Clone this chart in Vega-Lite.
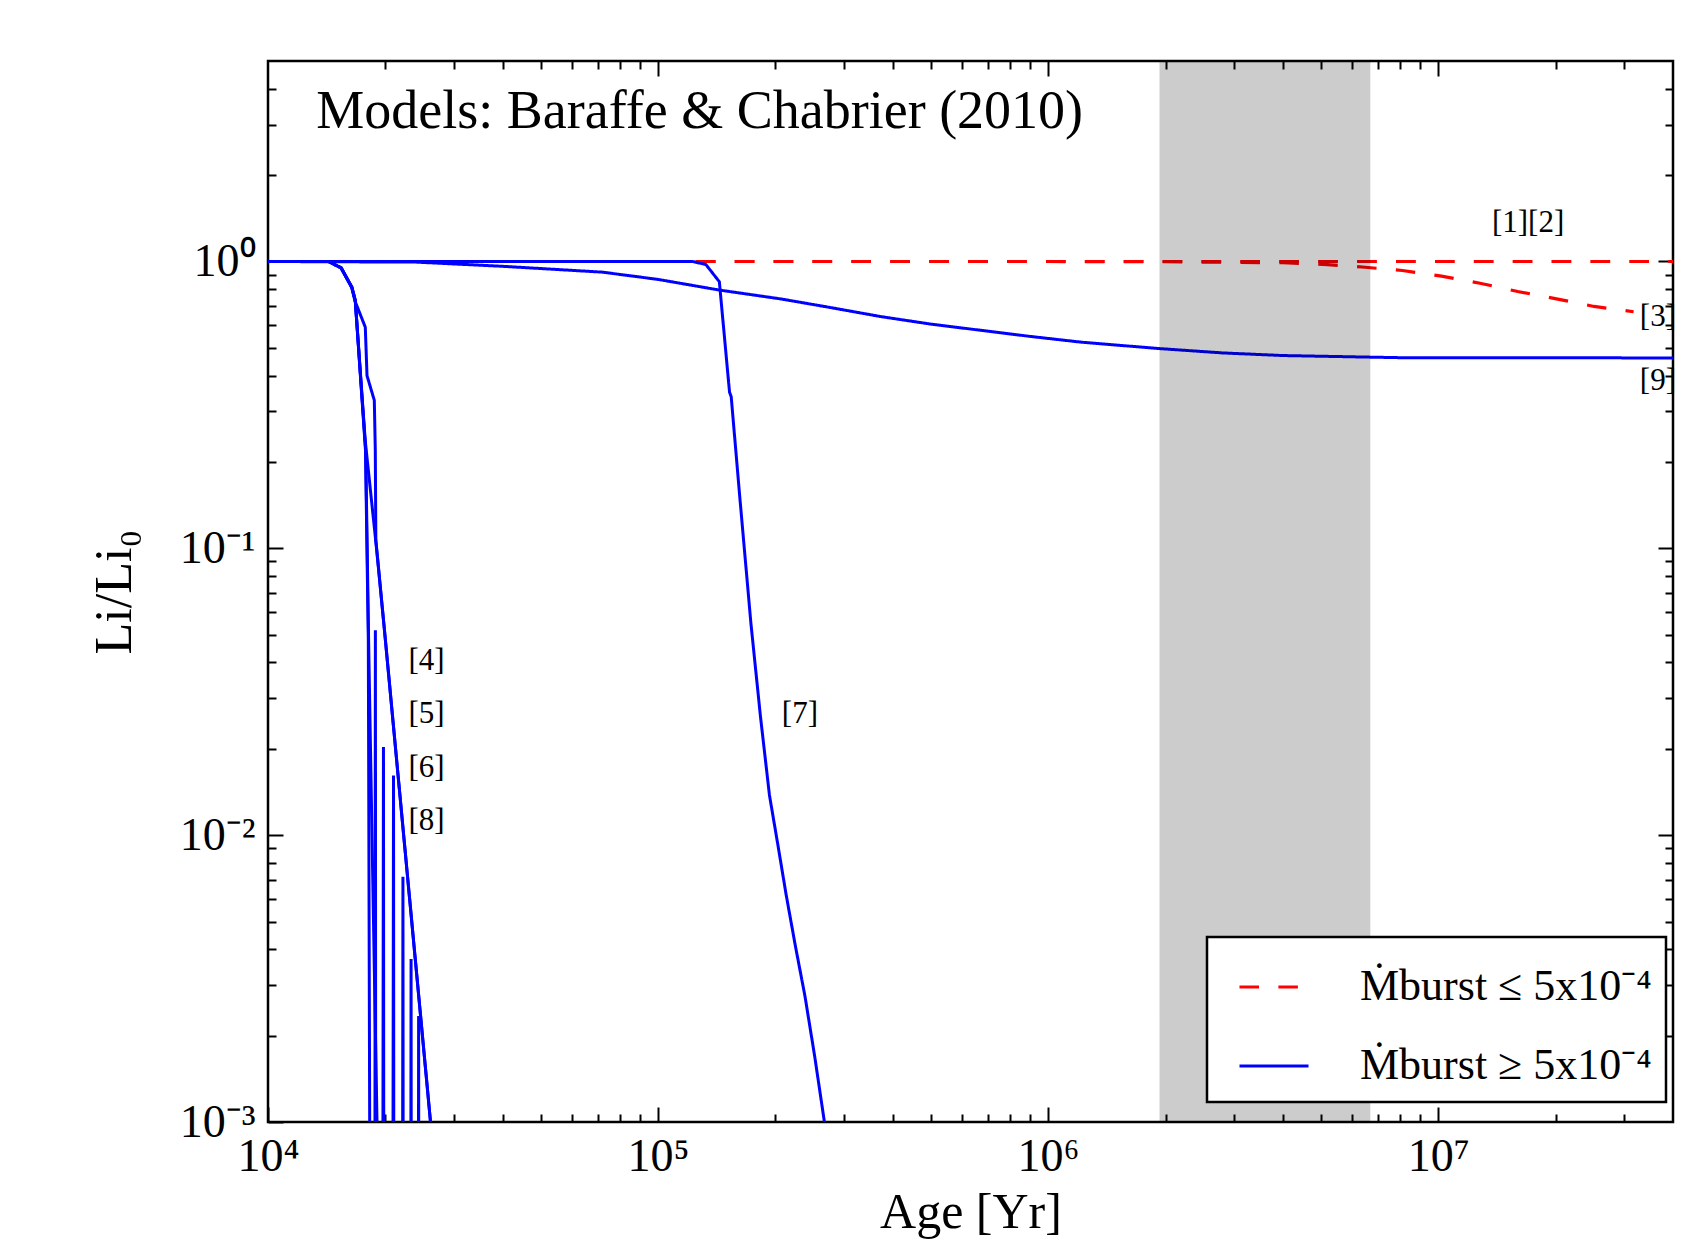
{
  "$schema": "https://vega.github.io/schema/vega-lite/v6.json",
  "width": 1405,
  "height": 1061,
  "autosize": {"type": "none"},
  "padding": {"left": 268, "top": 61, "right": 26, "bottom": 121},
  "background": "white",
  "config": {
    "view": {"stroke": "black", "strokeWidth": 2.5, "fill": "white"},
    "axis": {
      "domain": false, "grid": false, "tickColor": "black", "tickWidth": 2,
      "labelFont": "Liberation Serif", "labelFontSize": 46, "labelColor": "black",
      "titleFont": "Liberation Serif", "titleFontSize": 50, "titleFontWeight": "normal", "titleColor": "black",
      "labelFlush": false, "labelOverlap": false, "zindex": 1
    },
    "legend": {
      "orient": "none", "legendX": 939, "legendY": 876, "title": null,
      "strokeColor": "black", "strokeWidth": 2.5, "fillColor": "white", "padding": 14,
      "symbolType": "stroke", "symbolSize": 4761, "symbolStrokeWidth": 3, "symbolOffset": 17,
      "labelFont": "Liberation Serif", "labelFontSize": 44, "labelColor": "black",
      "labelOffset": 50, "rowPadding": 21, "labelLimit": 0, "cornerRadius": 0
    }
  },
  "datasets": {
    "red": [
      {"s": "[1]", "g": "Ṁburst ≤ 5x10⁻⁴", "x": 10000, "y": 1},
      {"s": "[1]", "g": "Ṁburst ≤ 5x10⁻⁴", "x": 50000000, "y": 1},
      {"s": "[2]", "g": "Ṁburst ≤ 5x10⁻⁴", "x": 10000, "y": 1},
      {"s": "[2]", "g": "Ṁburst ≤ 5x10⁻⁴", "x": 50000000, "y": 1},
      {"s": "[3]", "g": "Ṁburst ≤ 5x10⁻⁴", "x": 10000, "y": 1},
      {"s": "[3]", "g": "Ṁburst ≤ 5x10⁻⁴", "x": 1000000, "y": 1},
      {"s": "[3]", "g": "Ṁburst ≤ 5x10⁻⁴", "x": 2000000, "y": 0.998},
      {"s": "[3]", "g": "Ṁburst ≤ 5x10⁻⁴", "x": 4000000, "y": 0.99},
      {"s": "[3]", "g": "Ṁburst ≤ 5x10⁻⁴", "x": 5200000, "y": 0.975},
      {"s": "[3]", "g": "Ṁburst ≤ 5x10⁻⁴", "x": 6500000, "y": 0.955},
      {"s": "[3]", "g": "Ṁburst ≤ 5x10⁻⁴", "x": 8100000, "y": 0.93},
      {"s": "[3]", "g": "Ṁburst ≤ 5x10⁻⁴", "x": 10200000, "y": 0.889},
      {"s": "[3]", "g": "Ṁburst ≤ 5x10⁻⁴", "x": 12800000, "y": 0.84},
      {"s": "[3]", "g": "Ṁburst ≤ 5x10⁻⁴", "x": 16000000, "y": 0.786},
      {"s": "[3]", "g": "Ṁburst ≤ 5x10⁻⁴", "x": 20100000, "y": 0.741},
      {"s": "[3]", "g": "Ṁburst ≤ 5x10⁻⁴", "x": 25100000, "y": 0.697},
      {"s": "[3]", "g": "Ṁburst ≤ 5x10⁻⁴", "x": 31700000, "y": 0.668}
    ],
    "blue": [
      {"s": "[9]", "g": "Ṁburst ≥ 5x10⁻⁴", "x": 10000, "y": 1},
      {"s": "[9]", "g": "Ṁburst ≥ 5x10⁻⁴", "x": 24000, "y": 0.995},
      {"s": "[9]", "g": "Ṁburst ≥ 5x10⁻⁴", "x": 40000, "y": 0.962},
      {"s": "[9]", "g": "Ṁburst ≥ 5x10⁻⁴", "x": 72000, "y": 0.918},
      {"s": "[9]", "g": "Ṁburst ≥ 5x10⁻⁴", "x": 100000, "y": 0.866},
      {"s": "[9]", "g": "Ṁburst ≥ 5x10⁻⁴", "x": 143600, "y": 0.795},
      {"s": "[9]", "g": "Ṁburst ≥ 5x10⁻⁴", "x": 207000, "y": 0.74},
      {"s": "[9]", "g": "Ṁburst ≥ 5x10⁻⁴", "x": 270000, "y": 0.695},
      {"s": "[9]", "g": "Ṁburst ≥ 5x10⁻⁴", "x": 374000, "y": 0.642},
      {"s": "[9]", "g": "Ṁburst ≥ 5x10⁻⁴", "x": 500000, "y": 0.605},
      {"s": "[9]", "g": "Ṁburst ≥ 5x10⁻⁴", "x": 676000, "y": 0.575},
      {"s": "[9]", "g": "Ṁburst ≥ 5x10⁻⁴", "x": 900000, "y": 0.548},
      {"s": "[9]", "g": "Ṁburst ≥ 5x10⁻⁴", "x": 1220000, "y": 0.523},
      {"s": "[9]", "g": "Ṁburst ≥ 5x10⁻⁴", "x": 1930000, "y": 0.497},
      {"s": "[9]", "g": "Ṁburst ≥ 5x10⁻⁴", "x": 2800000, "y": 0.48},
      {"s": "[9]", "g": "Ṁburst ≥ 5x10⁻⁴", "x": 4000000, "y": 0.47},
      {"s": "[9]", "g": "Ṁburst ≥ 5x10⁻⁴", "x": 8000000, "y": 0.462},
      {"s": "[9]", "g": "Ṁburst ≥ 5x10⁻⁴", "x": 50000000, "y": 0.461},
      {"s": "[7]", "g": "Ṁburst ≥ 5x10⁻⁴", "x": 10000, "y": 1},
      {"s": "[7]", "g": "Ṁburst ≥ 5x10⁻⁴", "x": 122500, "y": 1},
      {"s": "[7]", "g": "Ṁburst ≥ 5x10⁻⁴", "x": 132600, "y": 0.976},
      {"s": "[7]", "g": "Ṁburst ≥ 5x10⁻⁴", "x": 143600, "y": 0.85},
      {"s": "[7]", "g": "Ṁburst ≥ 5x10⁻⁴", "x": 152500, "y": 0.35},
      {"s": "[7]", "g": "Ṁburst ≥ 5x10⁻⁴", "x": 154000, "y": 0.338},
      {"s": "[7]", "g": "Ṁburst ≥ 5x10⁻⁴", "x": 162000, "y": 0.151},
      {"s": "[7]", "g": "Ṁburst ≥ 5x10⁻⁴", "x": 173000, "y": 0.0548},
      {"s": "[7]", "g": "Ṁburst ≥ 5x10⁻⁴", "x": 183000, "y": 0.026},
      {"s": "[7]", "g": "Ṁburst ≥ 5x10⁻⁴", "x": 193000, "y": 0.0138},
      {"s": "[7]", "g": "Ṁburst ≥ 5x10⁻⁴", "x": 203000, "y": 0.0092},
      {"s": "[7]", "g": "Ṁburst ≥ 5x10⁻⁴", "x": 213000, "y": 0.0062},
      {"s": "[7]", "g": "Ṁburst ≥ 5x10⁻⁴", "x": 225000, "y": 0.0041},
      {"s": "[7]", "g": "Ṁburst ≥ 5x10⁻⁴", "x": 238000, "y": 0.00275},
      {"s": "[7]", "g": "Ṁburst ≥ 5x10⁻⁴", "x": 252000, "y": 0.0017},
      {"s": "[7]", "g": "Ṁburst ≥ 5x10⁻⁴", "x": 267000, "y": 0.001},
      {"s": "[7]", "g": "Ṁburst ≥ 5x10⁻⁴", "x": 280000, "y": 0.0006},
      {"s": "[4]", "g": "Ṁburst ≥ 5x10⁻⁴", "x": 10000, "y": 1},
      {"s": "[4]", "g": "Ṁburst ≥ 5x10⁻⁴", "x": 14300, "y": 1},
      {"s": "[4]", "g": "Ṁburst ≥ 5x10⁻⁴", "x": 15400, "y": 0.95},
      {"s": "[4]", "g": "Ṁburst ≥ 5x10⁻⁴", "x": 16400, "y": 0.814},
      {"s": "[4]", "g": "Ṁburst ≥ 5x10⁻⁴", "x": 16740, "y": 0.731},
      {"s": "[4]", "g": "Ṁburst ≥ 5x10⁻⁴", "x": 17750, "y": 0.238},
      {"s": "[4]", "g": "Ṁburst ≥ 5x10⁻⁴", "x": 19000, "y": 0.0984},
      {"s": "[4]", "g": "Ṁburst ≥ 5x10⁻⁴", "x": 20000, "y": 0.0478},
      {"s": "[4]", "g": "Ṁburst ≥ 5x10⁻⁴", "x": 26100, "y": 0.001},
      {"s": "[4]", "g": "Ṁburst ≥ 5x10⁻⁴", "x": 27000, "y": 0.0006},
      {"s": "[5]", "g": "Ṁburst ≥ 5x10⁻⁴", "x": 10000, "y": 1},
      {"s": "[5]", "g": "Ṁburst ≥ 5x10⁻⁴", "x": 14300, "y": 1},
      {"s": "[5]", "g": "Ṁburst ≥ 5x10⁻⁴", "x": 15400, "y": 0.95},
      {"s": "[5]", "g": "Ṁburst ≥ 5x10⁻⁴", "x": 16400, "y": 0.814},
      {"s": "[5]", "g": "Ṁburst ≥ 5x10⁻⁴", "x": 16740, "y": 0.731},
      {"s": "[5]", "g": "Ṁburst ≥ 5x10⁻⁴", "x": 17800, "y": 0.22},
      {"s": "[5]", "g": "Ṁburst ≥ 5x10⁻⁴", "x": 18110, "y": 0.0478},
      {"s": "[5]", "g": "Ṁburst ≥ 5x10⁻⁴", "x": 19030, "y": 0.001},
      {"s": "[5]", "g": "Ṁburst ≥ 5x10⁻⁴", "x": 19300, "y": 0.0006},
      {"s": "[6]", "g": "Ṁburst ≥ 5x10⁻⁴", "x": 10000, "y": 1},
      {"s": "[6]", "g": "Ṁburst ≥ 5x10⁻⁴", "x": 14300, "y": 1},
      {"s": "[6]", "g": "Ṁburst ≥ 5x10⁻⁴", "x": 15400, "y": 0.95},
      {"s": "[6]", "g": "Ṁburst ≥ 5x10⁻⁴", "x": 16400, "y": 0.81},
      {"s": "[6]", "g": "Ṁburst ≥ 5x10⁻⁴", "x": 16700, "y": 0.73},
      {"s": "[6]", "g": "Ṁburst ≥ 5x10⁻⁴", "x": 17760, "y": 0.59},
      {"s": "[6]", "g": "Ṁburst ≥ 5x10⁻⁴", "x": 17940, "y": 0.4},
      {"s": "[6]", "g": "Ṁburst ≥ 5x10⁻⁴", "x": 18730, "y": 0.328},
      {"s": "[6]", "g": "Ṁburst ≥ 5x10⁻⁴", "x": 18840, "y": 0.22},
      {"s": "[6]", "g": "Ṁburst ≥ 5x10⁻⁴", "x": 18900, "y": 0.107},
      {"s": "[6]", "g": "Ṁburst ≥ 5x10⁻⁴", "x": 20000, "y": 0.0478},
      {"s": "[6]", "g": "Ṁburst ≥ 5x10⁻⁴", "x": 26100, "y": 0.001},
      {"s": "[6]", "g": "Ṁburst ≥ 5x10⁻⁴", "x": 27000, "y": 0.0006},
      {"s": "[8]", "g": "Ṁburst ≥ 5x10⁻⁴", "x": 10000, "y": 1},
      {"s": "[8]", "g": "Ṁburst ≥ 5x10⁻⁴", "x": 14300, "y": 1},
      {"s": "[8]", "g": "Ṁburst ≥ 5x10⁻⁴", "x": 15400, "y": 0.95},
      {"s": "[8]", "g": "Ṁburst ≥ 5x10⁻⁴", "x": 16400, "y": 0.814},
      {"s": "[8]", "g": "Ṁburst ≥ 5x10⁻⁴", "x": 16740, "y": 0.731},
      {"s": "[8]", "g": "Ṁburst ≥ 5x10⁻⁴", "x": 17780, "y": 0.22},
      {"s": "[8]", "g": "Ṁburst ≥ 5x10⁻⁴", "x": 18080, "y": 0.0478},
      {"s": "[8]", "g": "Ṁburst ≥ 5x10⁻⁴", "x": 18400, "y": 0.00001},
      {"s": "[8]", "g": "Ṁburst ≥ 5x10⁻⁴", "x": 18750, "y": 0.00001},
      {"s": "[8]", "g": "Ṁburst ≥ 5x10⁻⁴", "x": 18850, "y": 0.0518},
      {"s": "[8]", "g": "Ṁburst ≥ 5x10⁻⁴", "x": 18880, "y": 0.0013},
      {"s": "[8]", "g": "Ṁburst ≥ 5x10⁻⁴", "x": 18950, "y": 0.00001},
      {"s": "[8]", "g": "Ṁburst ≥ 5x10⁻⁴", "x": 19620, "y": 0.00001},
      {"s": "[8]", "g": "Ṁburst ≥ 5x10⁻⁴", "x": 19770, "y": 0.0203},
      {"s": "[8]", "g": "Ṁburst ≥ 5x10⁻⁴", "x": 19850, "y": 0.00001},
      {"s": "[8]", "g": "Ṁburst ≥ 5x10⁻⁴", "x": 20820, "y": 0.00001},
      {"s": "[8]", "g": "Ṁburst ≥ 5x10⁻⁴", "x": 20980, "y": 0.01614},
      {"s": "[8]", "g": "Ṁburst ≥ 5x10⁻⁴", "x": 21060, "y": 0.00001},
      {"s": "[8]", "g": "Ṁburst ≥ 5x10⁻⁴", "x": 22060, "y": 0.00001},
      {"s": "[8]", "g": "Ṁburst ≥ 5x10⁻⁴", "x": 22180, "y": 0.00716},
      {"s": "[8]", "g": "Ṁburst ≥ 5x10⁻⁴", "x": 22260, "y": 0.00001},
      {"s": "[8]", "g": "Ṁburst ≥ 5x10⁻⁴", "x": 23170, "y": 0.00001},
      {"s": "[8]", "g": "Ṁburst ≥ 5x10⁻⁴", "x": 23270, "y": 0.0037},
      {"s": "[8]", "g": "Ṁburst ≥ 5x10⁻⁴", "x": 23350, "y": 0.00001},
      {"s": "[8]", "g": "Ṁburst ≥ 5x10⁻⁴", "x": 24240, "y": 0.00001},
      {"s": "[8]", "g": "Ṁburst ≥ 5x10⁻⁴", "x": 24330, "y": 0.00234},
      {"s": "[8]", "g": "Ṁburst ≥ 5x10⁻⁴", "x": 24410, "y": 0.00001}
    ],
    "band": [{"start": 1930000, "end": 6700000}],
    "ann": [
      {"label": "[1][2]", "x": 17000000, "y": 1.36},
      {"label": "[3]", "x": 36600000, "y": 0.643},
      {"label": "[9]", "x": 36600000, "y": 0.382},
      {"label": "[4]", "x": 25500, "y": 0.0404},
      {"label": "[5]", "x": 25500, "y": 0.0264},
      {"label": "[6]", "x": 25500, "y": 0.0171},
      {"label": "[8]", "x": 25500, "y": 0.0112},
      {"label": "[7]", "x": 231000, "y": 0.0264}
    ],
    "head": [{"label": "Models: Baraffe & Chabrier (2010)", "x": 13300, "y": 3.32}]
  },
  "layer": [
    {
      "data": {"name": "red"},
      "mark": {"type": "line", "strokeWidth": 3.2, "clip": true},
      "encoding": {
        "x": {"field": "x", "type": "quantitative",
          "scale": {"type": "log", "domain": [10000, 40000000], "nice": false},
          "axis": {"orient": "bottom", "values": [10000, 100000, 1000000, 10000000], "tickSize": -15, "labelPadding": 27,
            "labelExpr": "datum.value < 50000 ? '10⁴' : datum.value < 500000 ? '10⁵' : datum.value < 5000000 ? '10⁶' : '10⁷'",
            "title": "Age [Yr]", "titlePadding": 8}},
        "y": {"field": "y", "type": "quantitative",
          "scale": {"type": "log", "domain": [0.001, 5], "nice": false},
          "axis": {"orient": "left", "values": [0.001, 0.01, 0.1, 1], "tickSize": -15, "labelPadding": 28,
            "labelExpr": "datum.value > 0.5 ? '10⁰' : datum.value > 0.05 ? '10⁻¹' : datum.value > 0.005 ? '10⁻²' : '10⁻³'",
            "title": "Li/Li₀", "titlePadding": 38, "titleFontSize": 52}},
        "detail": {"field": "s"},
        "color": {"field": "g", "type": "nominal",
          "scale": {"domain": ["Ṁburst ≤ 5x10⁻⁴", "Ṁburst ≥ 5x10⁻⁴"], "range": ["#ff0000", "#0000ff"]}},
        "strokeDash": {"field": "g", "type": "nominal",
          "scale": {"domain": ["Ṁburst ≤ 5x10⁻⁴", "Ṁburst ≥ 5x10⁻⁴"], "range": [[19.5, 19.4], [1, 0]]}}
      }
    },
    {
      "data": {"name": "blue"},
      "mark": {"type": "line", "strokeWidth": 3, "clip": true},
      "encoding": {
        "x": {"field": "x", "type": "quantitative",
          "scale": {"type": "log", "domain": [10000, 40000000], "nice": false},
          "axis": {"orient": "bottom", "values": [20000, 30000, 40000, 50000, 60000, 70000, 80000, 90000, 200000, 300000, 400000, 500000, 600000, 700000, 800000, 900000, 2000000, 3000000, 4000000, 5000000, 6000000, 7000000, 8000000, 9000000, 20000000, 30000000], "tickSize": -8, "labels": false, "title": null}},
        "y": {"field": "y", "type": "quantitative",
          "scale": {"type": "log", "domain": [0.001, 5], "nice": false},
          "axis": {"orient": "left", "values": [0.002, 0.003, 0.004, 0.005, 0.006, 0.007, 0.008, 0.009, 0.02, 0.03, 0.04, 0.05, 0.06, 0.07, 0.08, 0.09, 0.2, 0.3, 0.4, 0.5, 0.6, 0.7, 0.8, 0.9, 2, 3, 4], "tickSize": -8, "labels": false, "title": null}},
        "detail": {"field": "s"},
        "color": {"field": "g", "type": "nominal",
          "scale": {"domain": ["Ṁburst ≤ 5x10⁻⁴", "Ṁburst ≥ 5x10⁻⁴"], "range": ["#ff0000", "#0000ff"]}},
        "strokeDash": {"field": "g", "type": "nominal",
          "scale": {"domain": ["Ṁburst ≤ 5x10⁻⁴", "Ṁburst ≥ 5x10⁻⁴"], "range": [[19.5, 19.4], [1, 0]]}}
      }
    },
    {
      "data": {"name": "band"},
      "mark": {"type": "rect", "color": "black", "opacity": 0.2},
      "encoding": {
        "x": {"field": "start", "type": "quantitative", "scale": {"type": "log", "domain": [10000, 40000000], "nice": false}, "axis": null},
        "x2": {"field": "end"}
      }
    },
    {
      "data": {"name": "ann"},
      "mark": {"type": "text", "font": "Liberation Serif", "fontSize": 31, "align": "center", "baseline": "middle", "color": "black"},
      "encoding": {
        "x": {"field": "x", "type": "quantitative",
          "scale": {"type": "log", "domain": [10000, 40000000], "nice": false},
          "axis": {"orient": "top", "values": [100000, 1000000, 10000000], "tickSize": -15, "labels": false, "title": null}},
        "y": {"field": "y", "type": "quantitative",
          "scale": {"type": "log", "domain": [0.001, 5], "nice": false},
          "axis": {"orient": "right", "values": [0.01, 0.1, 1], "tickSize": -15, "labels": false, "title": null}},
        "text": {"field": "label"}
      }
    },
    {
      "data": {"name": "head"},
      "mark": {"type": "text", "font": "Liberation Serif", "fontSize": 54, "align": "left", "baseline": "middle", "color": "black"},
      "encoding": {
        "x": {"field": "x", "type": "quantitative",
          "scale": {"type": "log", "domain": [10000, 40000000], "nice": false},
          "axis": {"orient": "top", "values": [20000, 30000, 40000, 50000, 60000, 70000, 80000, 90000, 200000, 300000, 400000, 500000, 600000, 700000, 800000, 900000, 2000000, 3000000, 4000000, 5000000, 6000000, 7000000, 8000000, 9000000, 20000000, 30000000], "tickSize": -8, "labels": false, "title": null}},
        "y": {"field": "y", "type": "quantitative",
          "scale": {"type": "log", "domain": [0.001, 5], "nice": false},
          "axis": {"orient": "right", "values": [0.002, 0.003, 0.004, 0.005, 0.006, 0.007, 0.008, 0.009, 0.02, 0.03, 0.04, 0.05, 0.06, 0.07, 0.08, 0.09, 0.2, 0.3, 0.4, 0.5, 0.6, 0.7, 0.8, 0.9, 2, 3, 4], "tickSize": -8, "labels": false, "title": null}},
        "text": {"field": "label"}
      }
    }
  ],
  "resolve": {"scale": {"x": "shared", "y": "shared"}, "axis": {"x": "independent", "y": "independent"}}
}
